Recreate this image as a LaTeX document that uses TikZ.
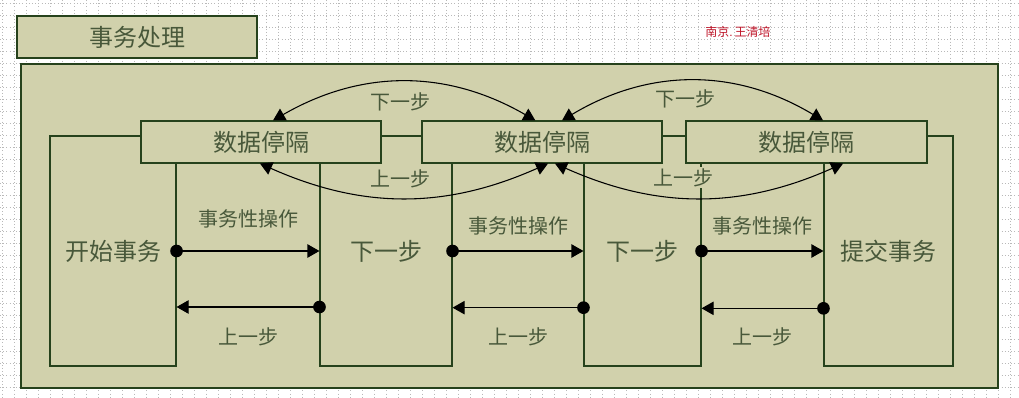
\documentclass[tikz,border=0pt]{standalone}
\usepackage{fontspec}
\setmainfont{Noto Sans CJK SC}
\newfontfamily\latinfont{Liberation Sans}
\usetikzlibrary{arrows.meta}
\definecolor{panelfill}{RGB}{209,209,172}
\definecolor{edgegreen}{RGB}{38,66,28}
\definecolor{textgreen}{RGB}{72,88,58}
\definecolor{authorred}{RGB}{190,20,40}
\begin{document}
\begin{tikzpicture}[x=0.75pt,y=-0.75pt,
  gridline/.style={gray!55,line width=0.4pt,dotted},
  box/.style={draw=edgegreen,fill=panelfill,line width=0.8pt,text=textgreen,inner sep=0pt,font=\fontsize{18}{18}\selectfont},
  lbl/.style={text=textgreen,font=\fontsize{15}{15}\selectfont,fill=panelfill,inner sep=1pt},
  flow/.style={line width=0.8pt,-{Triangle[length=9pt,width=10pt]}},
  hop/.style={line width=0.8pt,{Triangle[length=9pt,width=10pt]}-{Triangle[length=9pt,width=10pt]}},
  dot/.style={circle,fill=black,inner sep=0pt,minimum size=9.5pt}]
\useasboundingbox (0,0) rectangle (1019,398);
% background grid
\foreach \gx in {2,14,...,1019} \draw[gridline] (\gx,0) -- (\gx,398);
\foreach \gy in {3,15,...,398} \draw[gridline] (0,\gy) -- (1019,\gy);
% title and frame
\node[box,minimum width=180pt,minimum height=31.5pt] (title) at (137,37) {事务处理};
\node[text=authorred,font=\fontsize{9}{9}\selectfont] (author) at (738,32) {南京{\latinfont.}\,王清培};
\node[box,minimum width=732.75pt,minimum height=243pt] (frame) at (509.5,226) {};
% columns
\node[box,minimum width=94.5pt,minimum height=172.5pt] (start) at (113,251) {开始事务};
\node[box,minimum width=99pt,minimum height=172.5pt] (nextA) at (386,251) {下一步};
\node[box,minimum width=87.75pt,minimum height=172.5pt] (nextB) at (642.5,251) {下一步};
\node[box,minimum width=96.75pt,minimum height=172.5pt] (commit) at (888.5,251) {提交事务};
% gaps
\node[box,minimum width=180pt,minimum height=31.5pt] (gapA) at (261,142) {数据停隔};
\node[box,minimum width=180pt,minimum height=31.5pt] (gapB) at (542,142) {数据停隔};
\node[box,minimum width=180.75pt,minimum height=31.5pt] (gapC) at (806.5,142) {数据停隔};
% forward and back steps
\draw[flow] (start.east) -- (nextA.west) node[lbl,midway,yshift=24pt] {事务性操作};
\draw[flow] ([yshift=-42pt]nextA.west) -- ([yshift=-42pt]start.east) node[lbl,midway,yshift=-22.5pt] {上一步};
\draw[flow] (nextA.east) -- (nextB.west) node[lbl,midway,yshift=19pt] {事务性操作};
\draw[flow] ([yshift=-42.5pt]nextB.west) -- ([yshift=-42.5pt]nextA.east) node[lbl,midway,yshift=-22pt] {上一步};
\draw[flow] (nextB.east) -- (commit.west) node[lbl,midway,yshift=18.5pt] {事务性操作};
\draw[flow] ([yshift=-43pt]commit.west) -- ([yshift=-43pt]nextB.east) node[lbl,midway,yshift=-21.5pt] {上一步};
\node[dot] (dotA) at (start.east) {};
\node[dot] (dotB) at ([yshift=-42pt]nextA.west) {};
\node[dot] (dotC) at (nextA.east) {};
\node[dot] (dotD) at ([yshift=-42.5pt]nextB.west) {};
\node[dot] (dotE) at (nextB.east) {};
\node[dot] (dotF) at ([yshift=-43pt]commit.west) {};
% jumps between gaps
\draw[hop] ([xshift=9pt]gapA.north) to[bend left=30] node[lbl,midway,xshift=-3pt,yshift=-15pt] {下一步} ([xshift=-5pt]gapB.north);
\draw[hop] ([xshift=15pt]gapB.north) to[bend left=31] node[lbl,midway,xshift=-5.5pt,yshift=-13.5pt] {下一步} ([xshift=12.4pt]gapC.north);
\draw[hop] ([xshift=-0.75pt]gapA.south) to[bend right=24] node[lbl,midway,xshift=-3pt,yshift=14pt] {上一步} ([xshift=4.5pt]gapB.south);
\draw[hop] ([xshift=9.75pt]gapB.south) to[bend right=24] node[lbl,midway,xshift=-12pt,yshift=15pt] {上一步} ([xshift=27.4pt]gapC.south);
\end{tikzpicture}
\end{document}
